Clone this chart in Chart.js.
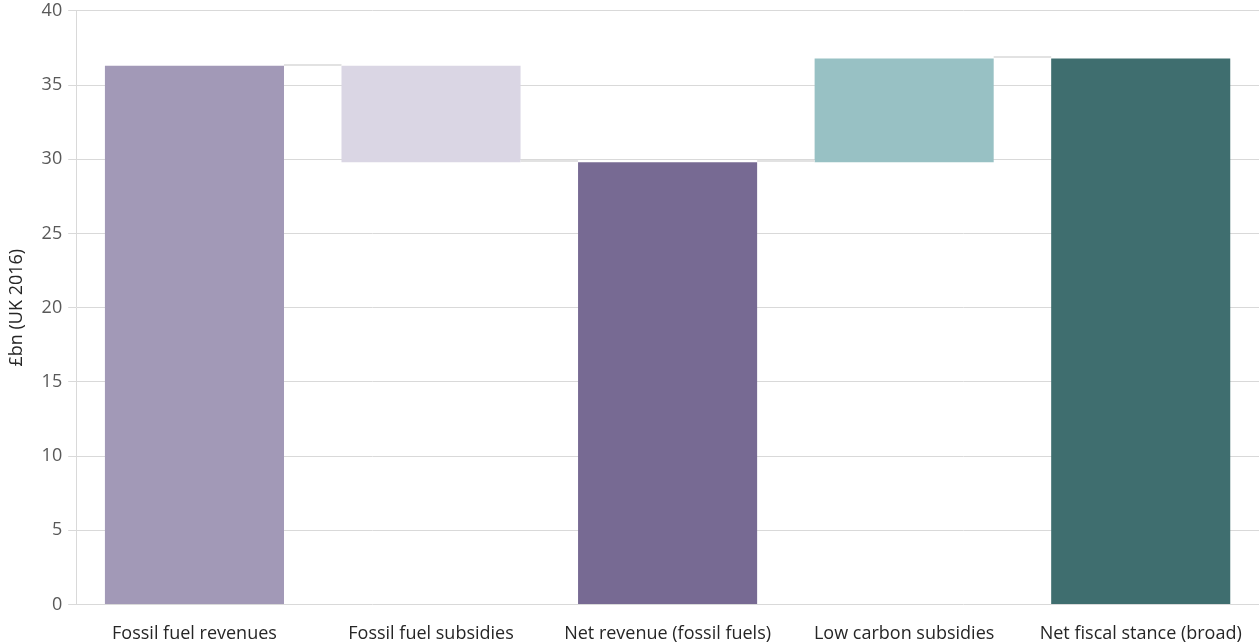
<!DOCTYPE html>
<html>
<head>
<meta charset="utf-8">
<title>Fiscal stance waterfall</title>
<script src="https://cdn.jsdelivr.net/npm/chart.js@4.4.1/dist/chart.umd.min.js"></script>
<style>
    html, body { margin: 0; padding: 0; background: #fff; }
    #wrap { width: 1259px; height: 644px; }
</style>
</head>
<body>
<div id="wrap"><canvas id="waterfallChart"></canvas></div>
<script>
const categories = ['Fossil fuel revenues', 'Fossil fuel subsidies', 'Net revenue (fossil fuels)', 'Low carbon subsidies', 'Net fiscal stance (broad)'];
const barStart = [0, 29.8, 0, 29.8, 0];
const barEnd = [36.3, 36.3, 29.8, 36.8, 36.8];
const yTicks = [0, 5, 10, 15, 20, 25, 30, 35, 40];
const barColours = ['#A299B7', '#DAD6E4', '#776A93', '#98C1C4', '#3F6E6F'];

// thin joining lines between neighbouring bars at the running total
const connectors = {
    id: 'connectors',
    afterDatasetsDraw(chart) {
        const meta = chart.getDatasetMeta(0);
        const y = chart.scales.y;
        const ctx = chart.ctx;
        ctx.save();
        ctx.strokeStyle = '#e2e2e2';
        ctx.lineWidth = 2;
        for (let i = 0; i < categories.length - 1; i++) {
            const a = [barStart[i], barEnd[i]];
            const b = [barStart[i + 1], barEnd[i + 1]];
            const level = a.filter(v => v !== 0 && b.includes(v))[0];
            if (level === undefined) continue;
            const left = meta.data[i].x + meta.data[i].width / 2;
            const right = meta.data[i + 1].x - meta.data[i + 1].width / 2;
            const py = Math.round(y.getPixelForValue(level)) - 1;
            ctx.beginPath();
            ctx.moveTo(left, py);
            ctx.lineTo(right, py);
            ctx.stroke();
        }
        ctx.restore();
    }
};

document.addEventListener('DOMContentLoaded', () => {
    const el = document.getElementById('waterfallChart');
    new Chart(el.getContext('2d'), {
        type: 'bar',
        data: {
            labels: categories,
            datasets: [{
                data: barStart.map((s, i) => [s, barEnd[i]]),
                backgroundColor: barColours,
                borderWidth: 0,
                categoryPercentage: 0.757,
                barPercentage: 1
            }]
        },
        options: {
            responsive: true,
            maintainAspectRatio: false,
            animation: false,
            layout: { padding: { top: 1, right: 0, left: 6, bottom: -12 } },
            plugins: {
                legend: { display: false },
                tooltip: { enabled: false }
            },
            scales: {
                x: {
                    grid: { display: false },
                    border: { display: false },
                    ticks: {
                        color: '#262626',
                        padding: 11,
                        maxRotation: 0,
                        font: { family: 'Open Sans', size: 18 }
                    }
                },
                y: {
                    min: 0,
                    max: 40,
                    afterBuildTicks(axis) {
                        axis.ticks = yTicks.map(v => ({ value: v }));
                    },
                    grid: { color: '#d9d9d9', tickLength: 8 },
                    border: { color: '#d9d9d9' },
                    ticks: {
                        color: '#595959',
                        padding: 6,
                        font: { family: 'Open Sans', size: 18, lineHeight: 0.55 }
                    },
                    title: {
                        display: true,
                        text: '£bn (UK 2016)',
                        color: '#262626',
                        padding: { top: 0, bottom: 8 },
                        font: { family: 'Open Sans', size: 18 }
                    }
                }
            }
        },
        plugins: [connectors]
    });
});
</script>
</body>
</html>
